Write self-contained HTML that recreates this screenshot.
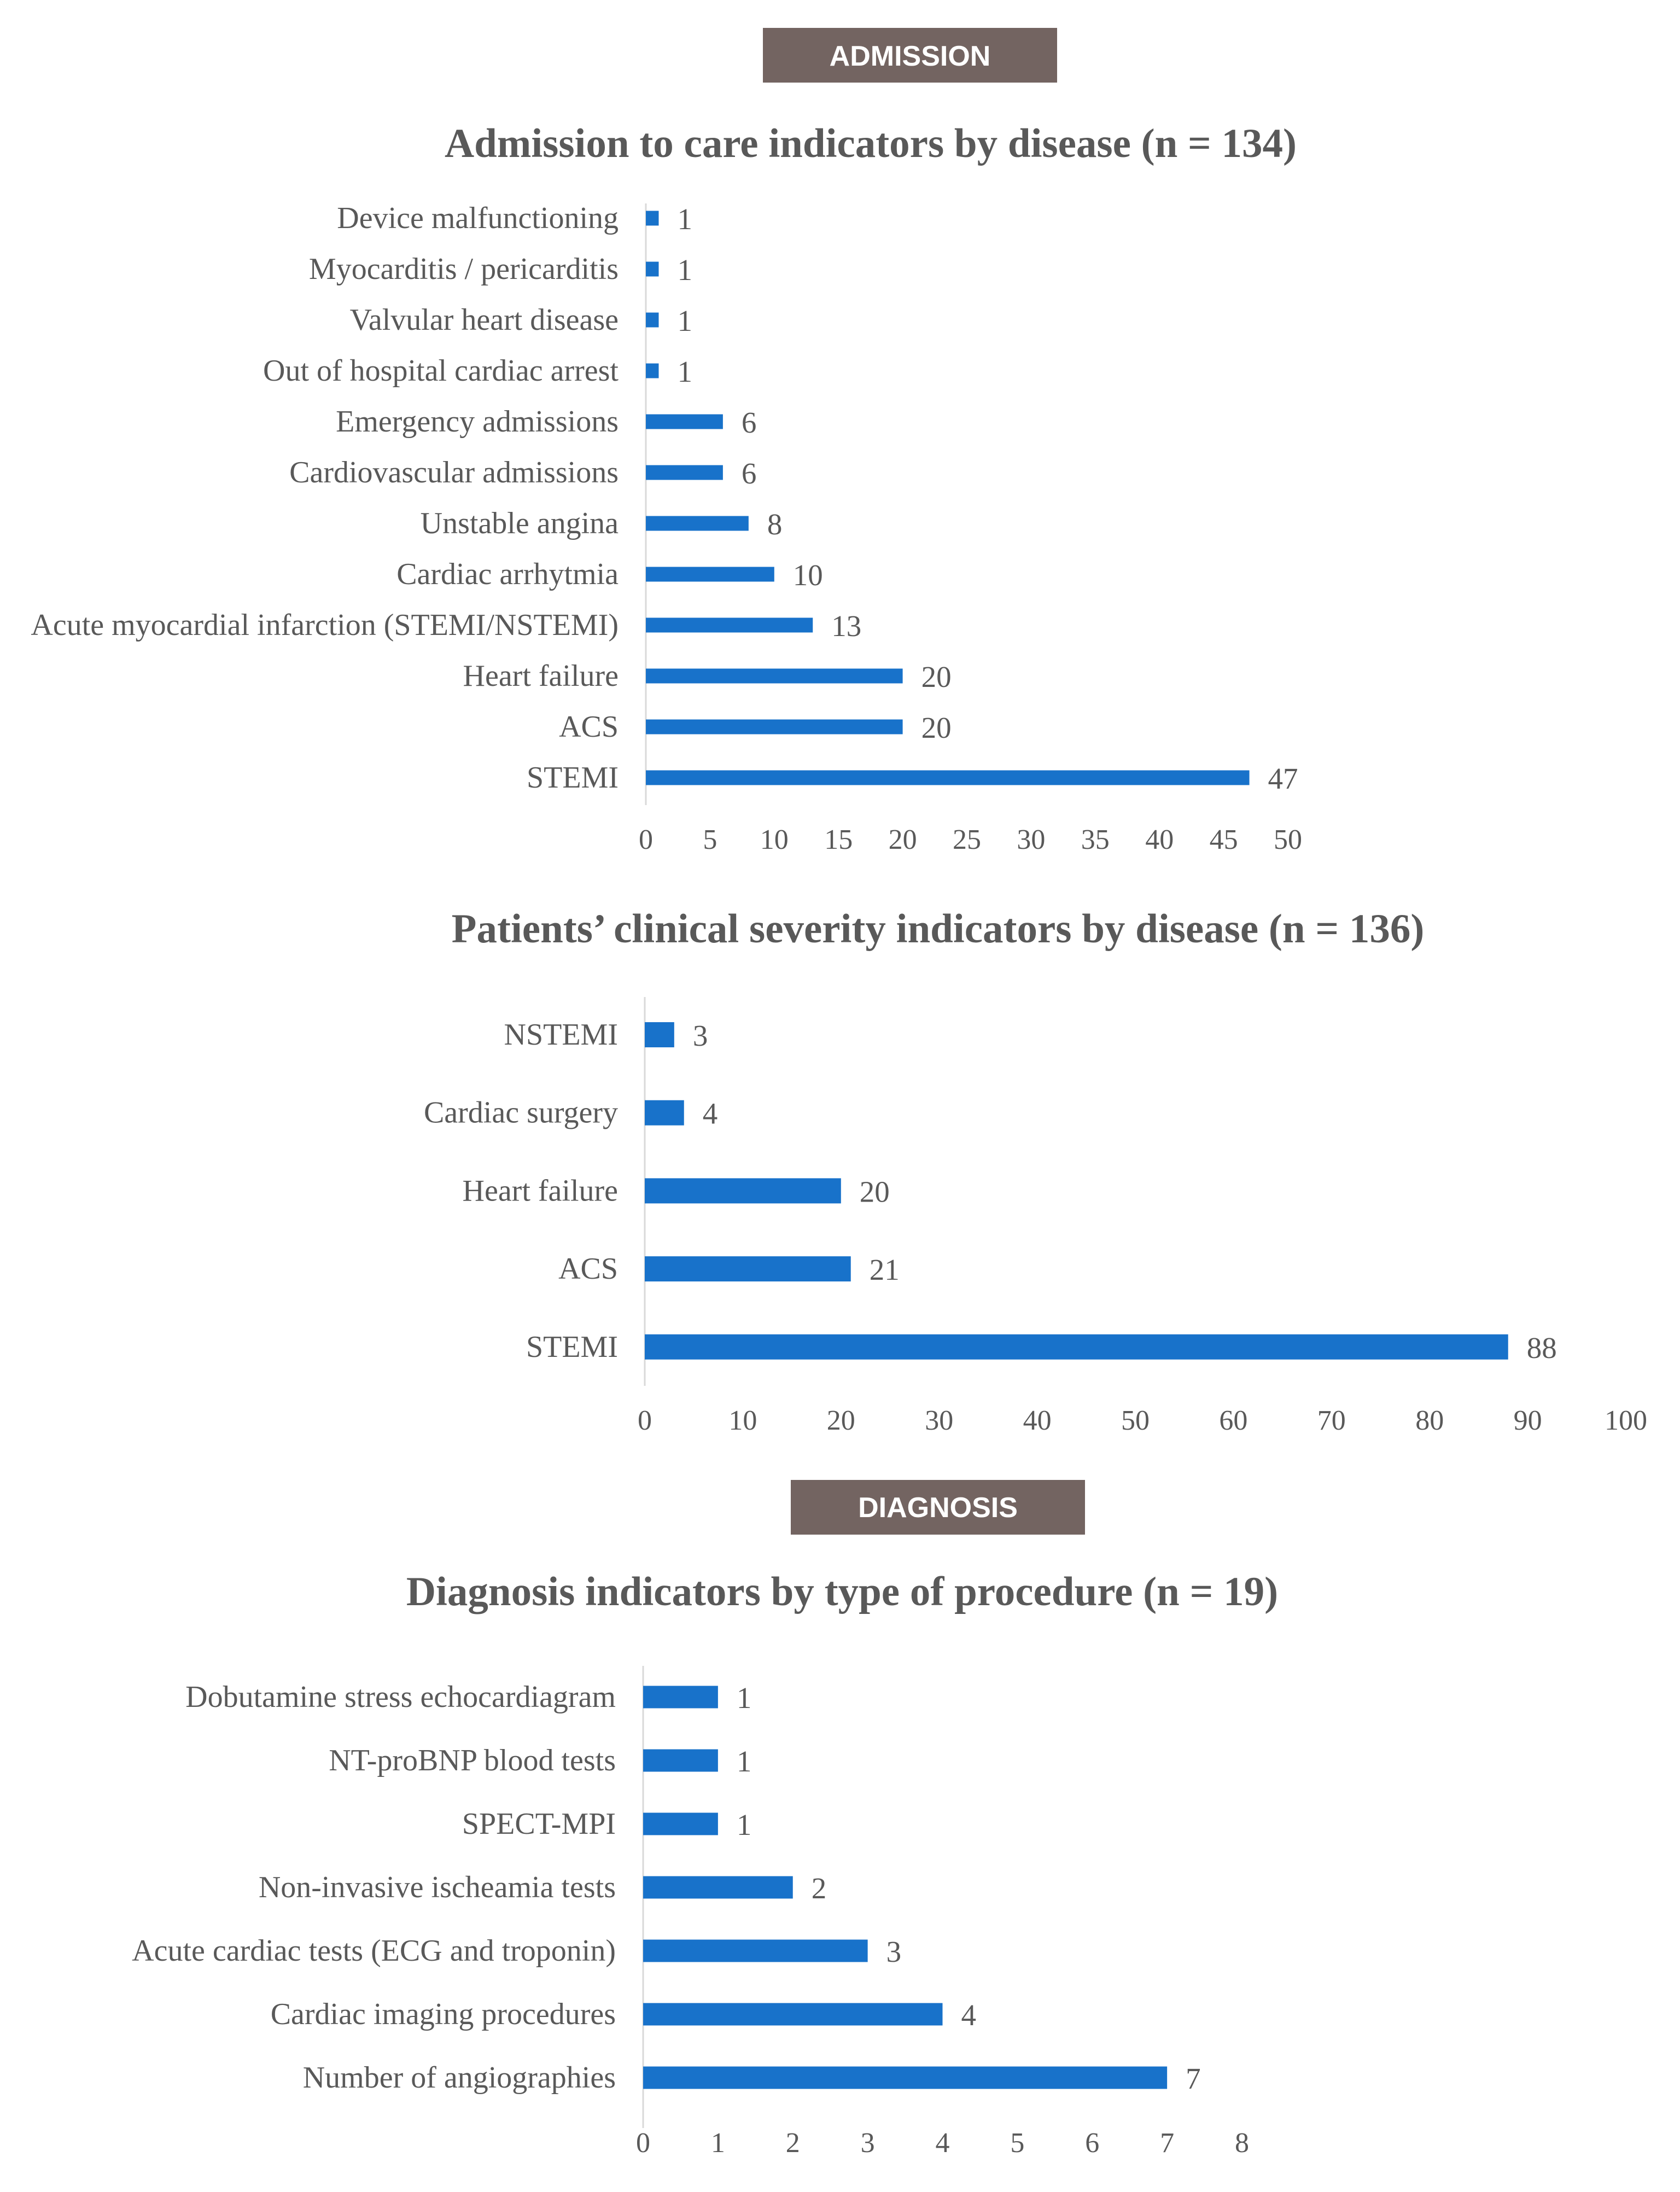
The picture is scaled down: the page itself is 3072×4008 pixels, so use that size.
<!DOCTYPE html>
<html><head><meta charset="utf-8"><style>
body{margin:0;background:#fff;}
svg{display:block;}
text{font-family:"Liberation Serif",serif;fill:#595959;}
.lbl{font-size:56px;}
.val{font-size:55px;}
.tick{font-size:52px;}
.ttl{font-size:75px;font-weight:bold;}
.box{font-family:"Liberation Sans",sans-serif;font-size:52px;font-weight:bold;fill:#fff;}
</style></head><body>
<svg id="s" width="3072" height="4008" viewBox="0 0 3072 4008" xmlns="http://www.w3.org/2000/svg">
<rect x="1395" y="51" width="538" height="100" fill="#736461"/>
<text class="box" x="1664" y="120" text-anchor="middle">ADMISSION</text>
<text class="ttl" x="1592" y="287" text-anchor="middle">Admission to care indicators by disease  (n = 134)</text>
<text class="ttl" x="1715" y="1723" text-anchor="middle">Patients’ clinical severity indicators by disease (n = 136)</text>
<rect x="1446" y="2706" width="538" height="100" fill="#736461"/>
<text class="box" x="1715" y="2774" text-anchor="middle">DIAGNOSIS</text>
<text class="ttl" x="1540" y="2935" text-anchor="middle">Diagnosis indicators by type of procedure (n = 19)</text>
</svg>
<script>
const c1Cats=["Device malfunctioning","Myocarditis / pericarditis","Valvular heart disease","Out of hospital cardiac arrest","Emergency admissions","Cardiovascular admissions","Unstable angina","Cardiac arrhytmia","Acute myocardial infarction (STEMI/NSTEMI)","Heart failure","ACS","STEMI"];
const c1Vals=[1,1,1,1,6,6,8,10,13,20,20,47];
const c1Ticks=[0,5,10,15,20,25,30,35,40,45,50];
const c2Cats=["NSTEMI","Cardiac surgery","Heart failure","ACS","STEMI"];
const c2Vals=[3,4,20,21,88];
const c2Ticks=[0,10,20,30,40,50,60,70,80,90,100];
const c3Cats=["Dobutamine stress echocardiagram","NT-proBNP blood tests","SPECT-MPI","Non-invasive ischeamia tests","Acute cardiac tests (ECG and troponin)","Cardiac imaging procedures","Number of angiographies"];
const c3Vals=[1,1,1,2,3,4,7];
const c3Ticks=[0,1,2,3,4,5,6,7,8];
const svg=document.getElementById('s');
const NS="http://www.w3.org/2000/svg";
function mk(tag,attrs,txt){const e=document.createElementNS(NS,tag);for(const k in attrs)e.setAttribute(k,attrs[k]);if(txt!==undefined)e.textContent=txt;svg.appendChild(e);return e;}
function chart(id,cats,vals,ticks,cfg){
  const x=v=>cfg.x0+(v-ticks[0])/(ticks[ticks.length-1]-ticks[0])*(cfg.x1-cfg.x0);
  const y=i=>cfg.y0+i*cfg.step;
  const ax=mk('line',{x1:cfg.x0,x2:cfg.x0,y1:cfg.axTop,y2:cfg.axBot,stroke:'#d9d9d9','stroke-width':3});
  
  
  cats.forEach((c,i)=>{
    const t=mk('text',{class:'lbl',x:cfg.lx,y:y(i)+18,'text-anchor':'end'},c);
    
    
    const r=mk('rect',{x:x(0),y:y(i)-cfg.bh/2,width:x(vals[i])-x(0),height:cfg.bh,fill:'#1872ca'});
    
    
    const v=mk('text',{class:'val',x:x(vals[i])+34,y:y(i)+20},String(vals[i]));
    
    
  });
  ticks.forEach(tk=>{
    const t=mk('text',{class:'tick',x:x(tk),y:cfg.ty,'text-anchor':'middle'},String(tk));
    
    
  });
}
chart('chart1',c1Cats,c1Vals,c1Ticks,{x0:1181,x1:2355,y0:399,step:93,bh:27,axTop:372,axBot:1472,lx:1131,ty:1552});
chart('chart2',c2Cats,c2Vals,c2Ticks,{x0:1179,x1:2973,y0:1892,step:142.7,bh:46,axTop:1823,axBot:2534,lx:1130,ty:2614});
chart('chart3',c3Cats,c3Vals,c3Ticks,{x0:1176,x1:2271,y0:3103,step:116,bh:41,axTop:3046,axBot:3891,lx:1126,ty:3935});
</script>
</body></html>
